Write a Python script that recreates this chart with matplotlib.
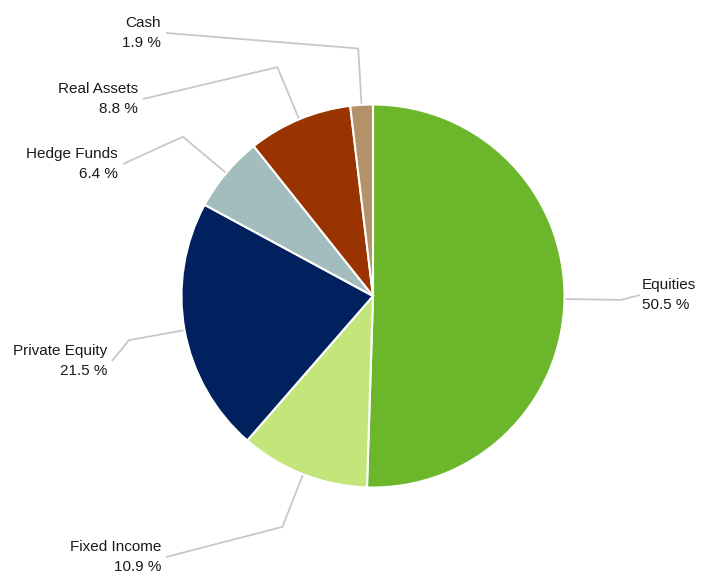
import numpy as np
import matplotlib
matplotlib.use("Agg")
import matplotlib.pyplot as plt

plt.rcParams["font.family"] = ["Liberation Sans", "Arial", "DejaVu Sans"]

# data
categories = ["Equities", "Fixed Income", "Private Equity", "Hedge Funds", "Real Assets", "Cash"]
shares = [50.5, 10.9, 21.5, 6.4, 8.8, 1.9]
colors = ["#6BB62B", "#C3E67A", "#00205E", "#A3BDBF", "#993300", "#B39169"]

# layout (pixel coords, y from top): where each leader line ends
label_end = [(640, 295), (166, 557), (112, 361), (123, 164), (143, 99), (166, 33)]

W, H = 701, 578
CX, CY, R = 373, 296, 191.5

fig = plt.figure(figsize=(W / 100, H / 100), dpi=100)
ax = fig.add_axes([0, 0, 1, 1])
wedges, _ = ax.pie(shares, colors=colors, startangle=90, counterclock=False,
                   center=(CX, H - CY), radius=R,
                   wedgeprops=dict(edgecolor="white", linewidth=1.5))
ax.set_xlim(0, W)
ax.set_ylim(0, H)
ax.set_aspect("auto")
ax.axis("off")

for w, name, val, (ex, ey) in zip(wedges, categories, shares, label_end):
    a = np.deg2rad((w.theta1 + w.theta2) / 2)
    x0, y0 = CX + R * np.cos(a), H - CY + R * np.sin(a)
    x1, y1 = CX + 248 * np.cos(a), H - CY + 248 * np.sin(a)
    ax.plot([x0, x1, ex], [y0, y1, H - ey], color="#c8c8c8", lw=1.3,
            solid_capstyle="butt", zorder=0)
    right = ex > CX
    ax.text(ex + 2 if right else ex - 5, H - ey, f"{name}\n{val} %",
            ha="left" if right else "right", va="center", fontsize=11,
            color="#1a1a1a", linespacing=1.55)

fig.savefig("out.png", dpi=100)
